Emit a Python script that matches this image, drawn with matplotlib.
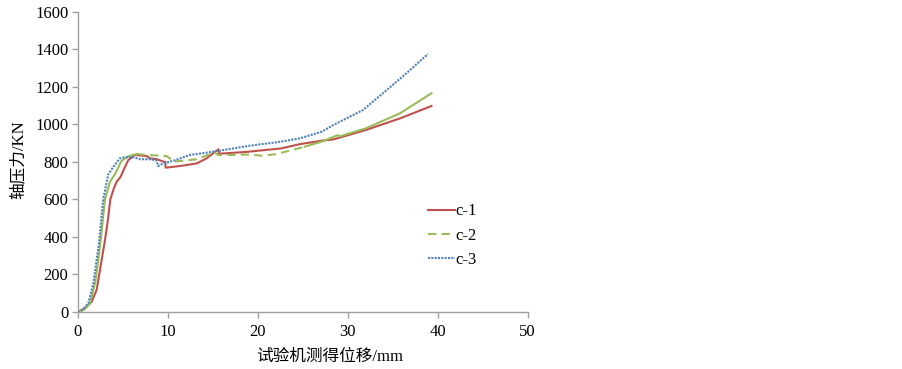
import matplotlib
matplotlib.use("Agg")
import matplotlib.pyplot as plt

# --- datos ---
x_c1 = [0, 0.78, 1.52, 2.07, 2.63, 3.0, 3.3, 3.6, 4.0, 4.3, 4.75, 5.2, 5.6, 6.35, 7.65,
        8.0, 8.77, 9.5, 9.7, 9.75, 11.35, 13.2, 14.3, 15.6, 15.7, 16.5, 18.9,
        22.6, 24.7, 27.1, 28.4, 32.0, 35.8, 39.3]
y_c1 = [0, 18, 53, 116, 276, 382, 480, 600, 660, 693, 720, 770, 809, 836, 830,
        818, 813, 800, 800, 768, 777, 791, 818, 866, 843, 845, 853,
        871, 894, 912, 919, 969, 1031, 1097]

x_c2 = [0, 0.67, 1.33, 1.89, 2.26, 2.52, 3.0, 3.55, 4.1, 4.85, 5.6, 6.5,
        7.65, 9.85, 10.2, 10.6, 13.2, 14.7, 15.2, 15.6, 16.5, 18.9, 20.5,
        22.0, 24.5, 25.2,
        27.1, 28.9, 29.1, 32.0, 35.8, 39.3]
y_c2 = [0, 10, 45, 151, 276, 382, 600, 693, 733, 805, 829, 841,
        836, 830, 818, 800, 813, 841, 848, 836, 836, 838, 832,
        840, 871, 880,
        907, 942, 935, 978, 1058, 1165]

x_c3 = [0, 0.5, 1.15, 1.7, 2.07, 2.37, 2.8, 3.37, 3.93, 4.66, 5.2, 6.15, 6.9,
        8.0, 8.75, 8.9, 9.5, 10.6, 12.45, 14.3, 15.8, 18.9, 22.6, 24.7,
        27.1, 28.4, 31.7, 33.9, 36.5, 38.9]
y_c3 = [0, 10, 45, 151, 276, 382, 600, 733, 773, 818, 824, 824, 813,
        813, 806, 777, 791, 805, 836, 848, 859, 884, 907, 925,
        960, 996, 1076, 1165, 1271, 1374]

labels = ["c-1", "c-2", "c-3"]
x_ticks = [0, 10, 20, 30, 40, 50]
y_ticks = [0, 200, 400, 600, 800, 1000, 1200, 1400, 1600]

RED = "#C0504D"
GREEN = "#9BBB59"
BLUE = "#4F81BD"
GRIS = "#A0A0A0"
FUENTE = ["Liberation Serif", "Noto Sans CJK SC", "DejaVu Sans"]

plt.rcParams["font.family"] = FUENTE

fig = plt.figure(figsize=(9.03, 3.69), dpi=100)
ax = fig.add_axes([78 / 903, 1 - 311.7 / 369, (527.7 - 78) / 903, 300 / 369])

l1, = ax.plot(x_c1, y_c1, color=RED, lw=1.5, label=labels[0])

# c-2: el trazo se ve continuo en la subida y al final, discontinuo en medio
i1 = x_c2.index(6.5)
i2 = x_c2.index(25.2)
ax.plot(x_c2[:i1 + 1], y_c2[:i1 + 1], color=GREEN, lw=1.5)
l2, = ax.plot(x_c2[i1:i2 + 1], y_c2[i1:i2 + 1], color=GREEN, lw=1.5,
              ls=(0, (4, 2.5)), label=labels[1])
ax.plot(x_c2[i2:], y_c2[i2:], color=GREEN, lw=1.5)

l3, = ax.plot(x_c3, y_c3, color=BLUE, lw=1.5, ls=(0, (1, 0.6)), label=labels[2])

ax.set_xlim(0, 50)
ax.set_ylim(0, 1600)
ax.set_xticks(x_ticks)
ax.set_yticks(y_ticks)

for s in ["top", "right"]:
    ax.spines[s].set_visible(False)
for s in ["left", "bottom"]:
    ax.spines[s].set_color(GRIS)
    ax.spines[s].set_linewidth(1.0)
ax.tick_params(axis="both", direction="out", length=4, width=1.0, color=GRIS,
               labelsize=12)
ax.tick_params(axis="y", pad=3)
ax.tick_params(axis="x", pad=5)

fig.text(330 / 903, 1 - 357 / 369, "试验机测得位移/mm", fontsize=12,
         ha="center", va="center")
fig.text(19 / 903, 1 - 160 / 369, "轴压力/KN", fontsize=12, rotation=90,
         ha="center", va="center")

ax.legend(handles=[l1, l2, l3], loc="upper left",
          bbox_to_anchor=(420 / 903, 1 - 195 / 369), bbox_transform=fig.transFigure,
          frameon=False, fontsize=12, borderpad=0, handlelength=1.6,
          handletextpad=0.05, labelspacing=0.5)

fig.savefig("out.png", dpi=100)
